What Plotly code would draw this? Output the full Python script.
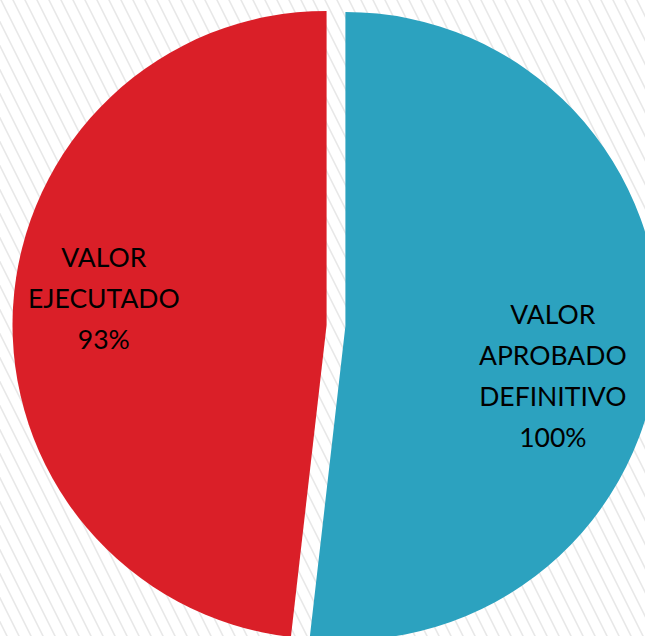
import plotly.graph_objects as go

# ---- data ----
labels = ["VALOR APROBADO DEFINITIVO", "VALOR EJECUTADO"]
label_lines = [["VALOR", "APROBADO", "DEFINITIVO"], ["VALOR", "EJECUTADO"]]
values = [100, 93]
colors = ["#2CA2BF", "#DA1F28"]

W, H = 672, 649
TOP = 2
PH = H - TOP


def px2paper(x, y):
    return x / W, 1 - (y - TOP) / PH


fig = go.Figure()
fig.add_trace(go.Pie(
    labels=labels,
    values=values,
    marker=dict(colors=colors, line=dict(width=0)),
    sort=False,
    direction="clockwise",
    rotation=0,
    pull=[0.03, 0.03],
    textinfo="none",
    hoverinfo="label+value",
    showlegend=False,
))

# background hatch
shapes = []
for x0 in range(-340, 700, 12):
    xa, ya = px2paper(x0, -10)
    xb, yb = px2paper(x0 + 340, 670)
    shapes.append(dict(type="line", xref="paper", yref="paper",
                       x0=xa, y0=ya, x1=xb, y1=yb, layer="below",
                       line=dict(color="#e8e8e8", width=1.6)))

# labels
label_pos = [(553, 375), (104, 297.5)]
annotations = []
for lines, v, (lx, ly) in zip(label_lines, values, label_pos):
    parts = lines + [f"{v}%"]
    txt = "<br>".join(f"<span style='font-size:26.5px'>{p}</span>" for p in parts)
    ax, ay = px2paper(lx, ly)
    annotations.append(dict(x=ax, y=ay, xref="paper", yref="paper",
                            text=txt, showarrow=False, align="center",
                            xanchor="center", yanchor="middle",
                            font=dict(family="Lato", size=31.5, color="#000000")))

fig.update_layout(
    width=W, height=H,
    margin=dict(l=0, r=0, t=TOP, b=0, pad=0),
    paper_bgcolor="white",
    plot_bgcolor="white",
    shapes=shapes,
    annotations=annotations,
)

fig.write_html("out.html",
               config={"displayModeBar": False},
               post_script="document.body.style.margin='0';"
                           "document.body.style.overflow='hidden';"
                           "document.documentElement.style.overflow='hidden';")
